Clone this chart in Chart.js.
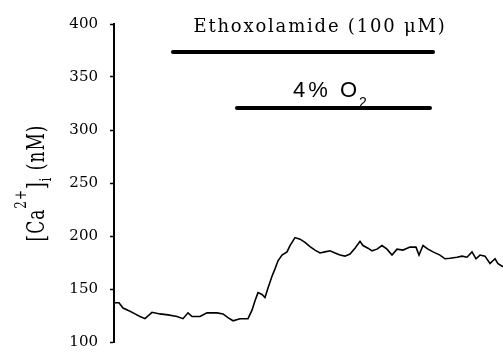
<!DOCTYPE html>
<html lang="en">
<head>
    <meta charset="UTF-8">
    <title>Ethoxolamide Ca2+ trace</title>
    <script src="https://cdn.jsdelivr.net/npm/chart.js"></script>
    <style>
        body { margin: 0; background: #fff; }
        #wrap { width: 503px; height: 363px; }
    </style>
</head>
<body>
    <div id="wrap"><canvas id="caChart" width="503" height="363"></canvas></div>

    <script>
        // time (arbitrary units from start of record) and [Ca2+]i in nM
        const timePts = [0, 5, 9, 16, 21, 26, 31, 38, 46, 54, 63, 69, 74, 78, 86, 93, 103, 109, 114, 119,
            126, 134, 138, 141, 144, 148, 151, 154, 158, 161, 164, 168, 173, 176, 181, 186, 191, 196, 201,
            206, 211, 216, 221, 226, 231, 236, 241, 246, 249, 254, 258, 263, 268, 273, 278, 283, 289, 296,
            302, 305, 309, 314, 319, 326, 331, 336, 343, 348, 353, 358, 362, 366, 371, 376, 381, 384, 389];
        const caValues = [137, 137, 132, 129, 126.5, 124, 122, 128, 126.5, 125.6, 124, 122, 127.5, 124, 124,
            127.5, 127.5, 126.5, 123, 120, 122, 122, 130, 139, 146.6, 144.8, 142, 151, 162, 169, 176.6, 182,
            185, 191, 198.5, 197, 194, 190, 186.7, 184, 185, 186, 184, 182, 181, 183, 188.5, 195, 191, 188.5,
            186, 187.6, 191, 187.6, 182, 187.6, 186.7, 189.5, 189.5, 182, 191, 187.6, 185, 182, 178.5, 179,
            180, 181, 180, 185, 178.5, 182, 181, 174, 178.5, 174, 171];

        const yTicks = [100, 150, 200, 250, 300, 350, 400];

        // treatment bars: [start, end] in time units and the level they are drawn at
        const ethoSpan = [59, 319];
        const ethoLevel = 373.6;
        const hypoxiaSpan = [123, 316];
        const hypoxiaLevel = 320.7;

        const serif = "'DejaVu Serif', serif";
        const sans = "'Liberation Sans', Arial, sans-serif";

        // text pieces drawn with super/subscripts
        const labelPlugin = {
            id: 'labels',
            afterDraw(chart) {
                const c = chart.ctx;
                const xs = chart.scales.x, ys = chart.scales.y;
                c.save();
                c.fillStyle = '#000';
                c.textBaseline = 'alphabetic';

                // Ethoxolamide label
                c.font = '18px ' + serif;
                c.letterSpacing = '1.8px';
                c.textAlign = 'center';
                c.fillText('Ethoxolamide (100 \u03bcM)', xs.getPixelForValue(206), ys.getPixelForValue(392.7));

                // 4% O2 label
                const o2x = xs.getPixelForValue(179);
                const o2y = ys.getPixelForValue(331.6);
                c.textAlign = 'left';
                c.font = '22px ' + sans;
                c.letterSpacing = '3px';
                c.fillText('4% O', o2x, o2y);
                const w = c.measureText('4% O').width;
                c.font = '14px ' + sans;
                c.letterSpacing = '0px';
                c.fillText('2', o2x + w - 1, o2y + 10);

                // y axis title (glyphs are stretched across the axis like the source)
                c.translate(44, 183);
                c.rotate(-Math.PI / 2);
                c.scale(1, 1.4);
                const parts = [
                    ['[Ca', 17, 0],
                    ['2+', 12, -13],
                    [']', 17, 0],
                    ['i', 12, 5],
                    [' (nM)', 17, 0]
                ];
                c.letterSpacing = '1px';
                let total = 0;
                parts.forEach(p => { c.font = p[1] + 'px ' + serif; total += c.measureText(p[0]).width; });
                let px = -total / 2;
                parts.forEach(p => {
                    c.font = p[1] + 'px ' + serif;
                    c.fillText(p[0], px, p[2]);
                    px += c.measureText(p[0]).width;
                });
                c.restore();
            }
        };

        const ctx = document.getElementById('caChart').getContext('2d');
        const chart = new Chart(ctx, {
            type: 'line',
            data: {
                datasets: [{
                    label: '[Ca2+]i',
                    data: timePts.map((t, i) => ({ x: t, y: caValues[i] })),
                    borderColor: '#000',
                    borderWidth: 1.6,
                    pointRadius: 0,
                    tension: 0
                }, {
                    label: 'Ethoxolamide (100 \u03bcM)',
                    data: ethoSpan.map(t => ({ x: t, y: ethoLevel })),
                    borderColor: '#000',
                    borderWidth: 4,
                    borderCapStyle: 'round',
                    pointRadius: 0
                }, {
                    label: '4% O2',
                    data: hypoxiaSpan.map(t => ({ x: t, y: hypoxiaLevel })),
                    borderColor: '#000',
                    borderWidth: 4,
                    borderCapStyle: 'round',
                    pointRadius: 0
                }]
            },
            options: {
                responsive: false,
                animation: false,
                layout: { padding: { top: 24, bottom: 10, left: 0, right: 0 } },
                plugins: {
                    legend: { display: false },
                    tooltip: { enabled: false }
                },
                scales: {
                    x: {
                        type: 'linear',
                        min: 0,
                        max: 389,
                        display: false
                    },
                    y: {
                        min: 100,
                        max: 400,
                        afterFit(scale) { scale.width = 114; },
                        afterBuildTicks(scale) { scale.ticks = yTicks.map(v => ({ value: v })); },
                        grid: {
                            drawOnChartArea: false,
                            drawTicks: true,
                            tickLength: 4,
                            tickWidth: 1.5,
                            color: '#000'
                        },
                        border: { display: true, color: '#000', width: 2 },
                        ticks: {
                            color: '#000',
                            padding: 12,
                            font: { family: serif, size: 15 }
                        }
                    }
                }
            },
            plugins: [labelPlugin]
        });
    </script>
</body>
</html>
